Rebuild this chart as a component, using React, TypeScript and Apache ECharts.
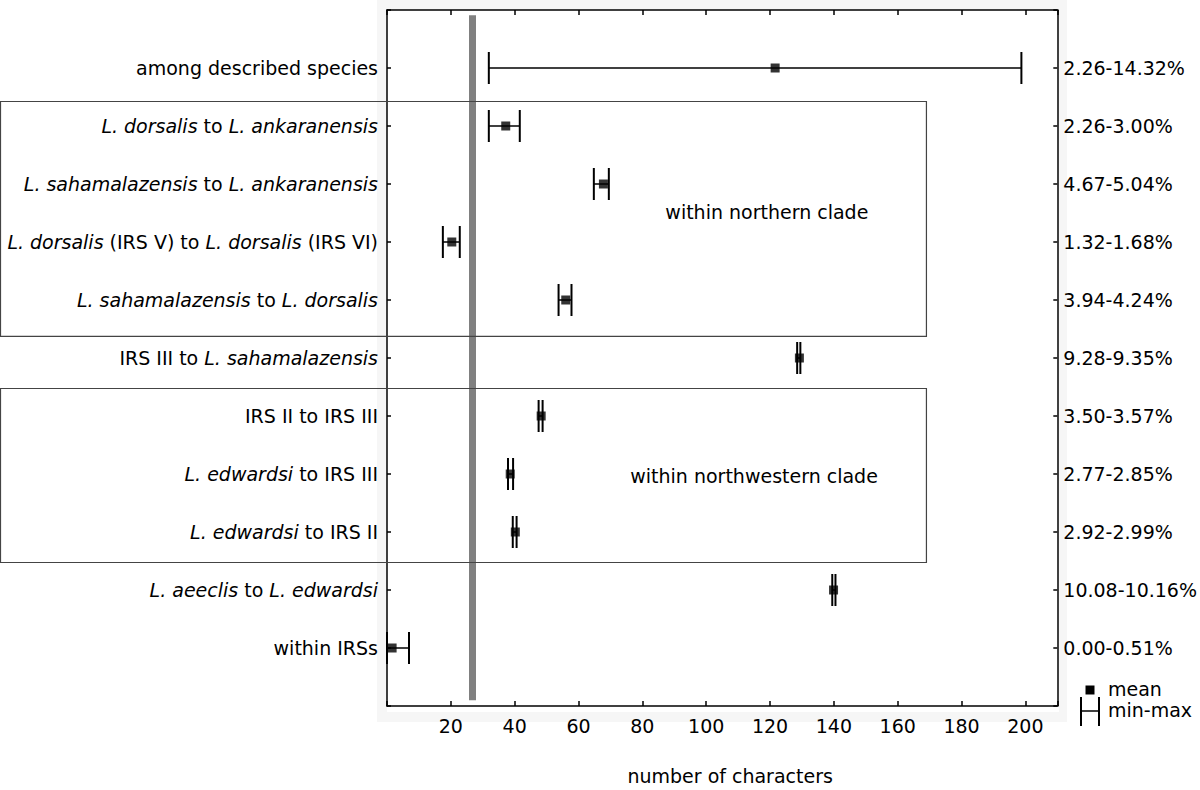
import React, { useEffect, useRef } from "react";
import * as echarts from "echarts";

const FONT = "DejaVu Sans";

const categories = [
  "among described species",
  "{i|L. dorsalis} to {i|L. ankaranensis}",
  "{i|L. sahamalazensis} to {i|L. ankaranensis}",
  "{i|L. dorsalis} (IRS V) to {i|L. dorsalis} (IRS VI)",
  "{i|L. sahamalazensis} to {i|L. dorsalis}",
  "IRS III to {i|L. sahamalazensis}",
  "IRS II to IRS III",
  "{i|L. edwardsi} to IRS III",
  "{i|L. edwardsi} to IRS II",
  "{i|L. aeeclis} to {i|L. edwardsi}",
  "within IRSs",
];

const percentLabels = [
  "2.26-14.32%",
  "2.26-3.00%",
  "4.67-5.04%",
  "1.32-1.68%",
  "3.94-4.24%",
  "9.28-9.35%",
  "3.50-3.57%",
  "2.77-2.85%",
  "2.92-2.99%",
  "10.08-10.16%",
  "0.00-0.51%",
];

const meanValues = [121.6, 37.2, 67.8, 20.3, 56.0, 129.2, 48.3, 38.6, 40.2, 139.9, 1.6];
const minValues = [31.9, 31.9, 64.8, 17.5, 53.75, 128.5, 47.5, 37.9, 39.4, 139.5, 0];
const maxValues = [198.75, 41.6, 69.5, 22.8, 57.8, 129.5, 48.75, 39.5, 40.6, 140.5, 6.9];

const thresholdValue = 26.7;

const cladeLabels = ["within northern clade", "within northwestern clade"];
const cladeTop = [1.57, 6.52];
const cladeBottom = [5.62, 9.52];
const cladeRight = [169, 169];
const cladeLabelX = [119, 115];
const cladeLabelY = [3.49, 8.03];

const xTicks = [20, 40, 60, 80, 100, 120, 140, 160, 180, 200];

export default function App() {
  const ref = useRef<HTMLDivElement>(null);

  useEffect(() => {
    document.body.style.margin = "0";
    const chart = echarts.init(ref.current!, undefined, { renderer: "svg" });
    const rows = categories.map((_, i) => i + 1);

    const labelStyle = {
      fontSize: 19,
      fontFamily: FONT,
      color: "#000",
    };

    const yLabelFmt = (arr: string[]) => (v: number) => {
      if (v >= 1 && v <= arr.length && Math.abs(v - Math.round(v)) < 1e-6) {
        return arr[Math.round(v) - 1];
      }
      return "";
    };

    const axisLine = { show: true, onZero: false, lineStyle: { color: "#000", width: 1.5 } };
    const tickStyle = { color: "#000", width: 1.5 };

    const option: any = {
      animation: false,
      backgroundColor: "#fff",
      grid: { left: 387, top: 10, width: 672, height: 702, containLabel: false },
      xAxis: [
        {
          type: "value",
          min: 0,
          max: 210,
          interval: 20,
          position: "bottom",
          axisLine,
          axisTick: { show: true, inside: true, length: 5, lineStyle: tickStyle },
          splitLine: { show: false },
          axisLabel: {
            ...labelStyle,
            margin: 10,
            formatter: (v: number) => (xTicks.indexOf(v) >= 0 ? String(v) : ""),
          },
          name: "number of characters",
          nameLocation: "middle",
          nameGap: 60,
          nameTextStyle: { ...labelStyle, padding: [0, 0, 0, 16] },
        },
        {
          type: "value",
          min: 0,
          max: 210,
          interval: 20,
          position: "top",
          axisLine,
          axisTick: { show: true, inside: true, length: 5, lineStyle: tickStyle },
          splitLine: { show: false },
          axisLabel: { show: false },
        },
      ],
      yAxis: [
        {
          type: "value",
          min: 0,
          max: 12,
          interval: 1,
          inverse: true,
          position: "left",
          axisLine,
          axisTick: { show: true, inside: true, length: 4, lineStyle: tickStyle },
          splitLine: { show: false },
          axisLabel: {
            ...labelStyle,
            margin: 9,
            formatter: yLabelFmt(categories),
            rich: { i: { ...labelStyle, fontStyle: "italic" } },
          },
        },
        {
          type: "value",
          min: 0,
          max: 12,
          interval: 1,
          inverse: true,
          position: "right",
          axisLine,
          axisTick: { show: true, inside: true, length: 4, lineStyle: tickStyle },
          splitLine: { show: false },
          axisLabel: {
            ...labelStyle,
            margin: 6,
            formatter: yLabelFmt(percentLabels),
          },
        },
      ],
      series: [
        {
          type: "custom",
          xAxisIndex: 0,
          yAxisIndex: 0,
          clip: false,
          z: 3,
          encode: { x: [0, 1], y: 2 },
          data: rows.map((r, i) => [minValues[i], maxValues[i], r]),
          renderItem: (params: any, api: any) => {
            const lo = api.coord([api.value(0), api.value(2)]);
            const hi = api.coord([api.value(1), api.value(2)]);
            const h = 16;
            const st = { stroke: "#000", lineWidth: 2 };
            return {
              type: "group",
              children: [
                { type: "line", shape: { x1: lo[0], y1: lo[1], x2: hi[0], y2: hi[1] }, style: { stroke: "#000", lineWidth: 1.5 } },
                { type: "line", shape: { x1: lo[0], y1: lo[1] - h, x2: lo[0], y2: lo[1] + h }, style: st },
                { type: "line", shape: { x1: hi[0], y1: hi[1] - h, x2: hi[0], y2: hi[1] + h }, style: st },
              ],
            };
          },
        },
        {
          type: "scatter",
          xAxisIndex: 0,
          yAxisIndex: 0,
          symbol: "rect",
          symbolSize: 9,
          z: 4,
          clip: false,
          itemStyle: { color: "#000" },
          data: rows.map((r, i) => [meanValues[i], r]),
          markLine: {
            silent: true,
            symbol: "none",
            z: 1,
            label: { show: false },
            lineStyle: { color: "#808080", width: 7, type: "solid" },
            data: [[{ coord: [thresholdValue, 0.09] }, { coord: [thresholdValue, 11.9] }]],
          },
        },
      ],
    };

    chart.setOption(option);

    const graphics: any[] = [
      { type: "rect", z: -20, silent: true, shape: { x: 377, y: 0, width: 690, height: 722 }, style: { fill: "#f6f6f6" } },
      { type: "rect", z: -19, silent: true, shape: { x: 387, y: 10, width: 672, height: 702 }, style: { fill: "#fff" } },
    ];

    cladeLabels.forEach((lab, i) => {
      const tl = chart.convertToPixel({ gridIndex: 0 }, [cladeRight[i], cladeTop[i]]) as number[];
      const br = chart.convertToPixel({ gridIndex: 0 }, [cladeRight[i], cladeBottom[i]]) as number[];
      graphics.push({
        type: "rect",
        z: 10,
        silent: true,
        shape: { x: 0.5, y: Math.round(tl[1]) + 0.5, width: tl[0] - 0.5, height: br[1] - tl[1] },
        style: { fill: "none", stroke: "#444", lineWidth: 1.2 },
      });
      const lp = chart.convertToPixel({ gridIndex: 0 }, [cladeLabelX[i], cladeLabelY[i]]) as number[];
      graphics.push({
        type: "text",
        z: 10,
        silent: true,
        x: lp[0],
        y: lp[1],
        style: { text: lab, fontSize: 19, fontFamily: FONT, fill: "#000", align: "center", verticalAlign: "middle" },
      });
    });

    // legend
    graphics.push(
      { type: "rect", z: 10, shape: { x: 1085.5, y: 685.5, width: 9, height: 9 }, style: { fill: "#000" } },
      { type: "text", z: 10, x: 1108, y: 689, style: { text: "mean", fontSize: 19, fontFamily: FONT, fill: "#000", align: "left", verticalAlign: "middle" } },
      { type: "line", z: 10, shape: { x1: 1081, y1: 697, x2: 1081, y2: 726 }, style: { stroke: "#000", lineWidth: 2 } },
      { type: "line", z: 10, shape: { x1: 1099, y1: 697, x2: 1099, y2: 726 }, style: { stroke: "#000", lineWidth: 2 } },
      { type: "line", z: 10, shape: { x1: 1081, y1: 711, x2: 1099, y2: 711 }, style: { stroke: "#000", lineWidth: 1.5 } },
      { type: "text", z: 10, x: 1108, y: 710, style: { text: "min-max", fontSize: 19, fontFamily: FONT, fill: "#000", align: "left", verticalAlign: "middle" } }
    );

    chart.setOption({ graphic: graphics });

    return () => chart.dispose();
  }, []);

  return <div ref={ref} style={{ width: 1200, height: 790 }} />;
}
